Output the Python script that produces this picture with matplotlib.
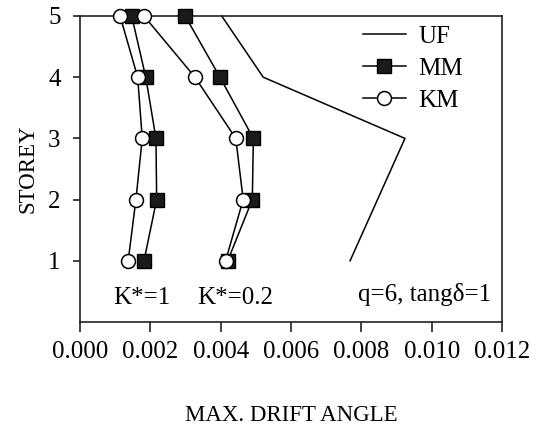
import matplotlib
matplotlib.use("Agg")
import matplotlib.pyplot as plt

plt.rcParams['font.family'] = ['Liberation Serif', 'DejaVu Serif']

storey = [1, 2, 3, 4, 5]

uf = [0.00768, 0.00846, 0.00924, 0.00521, 0.00403]

# K* = 1
mm_k1 = [0.00182, 0.00218, 0.00216, 0.00187, 0.00147]
km_k1 = [0.00137, 0.00159, 0.00177, 0.00164, 0.00114]

# K* = 0.2
mm_k02 = [0.00420, 0.00490, 0.00493, 0.00398, 0.00299]
km_k02 = [0.00414, 0.00464, 0.00443, 0.00327, 0.00182]

xticks = [0.000, 0.002, 0.004, 0.006, 0.008, 0.010, 0.012]
xticklabels = ["0.000", "0.002", "0.004", "0.006", "0.008", "0.010", "0.012"]

fig = plt.figure(figsize=(5.37, 4.3), dpi=100)
ax = fig.add_axes([80 / 537, 108 / 430, 422 / 537, 306 / 430])

lw = 1.1
ax.plot(uf, storey, color='black', lw=lw, label='UF', clip_on=False)
ax.plot(mm_k1, storey, color='black', lw=lw, marker='s', ms=9.5,
        mfc='#1a1a1a', mec='black', label='MM', clip_on=False, zorder=3)
ax.plot(km_k1, storey, color='black', lw=lw, marker='o', ms=10,
        mfc='white', mec='black', mew=1.1, label='KM', clip_on=False, zorder=4)
ax.plot(mm_k02, storey, color='black', lw=lw, marker='s', ms=9.5,
        mfc='#1a1a1a', mec='black', clip_on=False, zorder=3)
ax.plot(km_k02, storey, color='black', lw=lw, marker='o', ms=10,
        mfc='white', mec='black', mew=1.1, clip_on=False, zorder=4)

ax.set_xlim(0, 0.012)
ax.set_ylim(0, 5)
ax.set_xticks(xticks)
ax.set_xticklabels(xticklabels)
ax.set_yticks(storey)

for s in ax.spines.values():
    s.set_linewidth(1.2)
    s.set_color('#222222')

ax.tick_params(axis='x', direction='out', length=7, width=1.2, pad=7,
               labelsize=18, color='#222222')
ax.tick_params(axis='y', direction='out', length=5, width=1.2, pad=9,
               labelsize=18, color='#222222')

ax.set_ylabel("STOREY", fontsize=16.5, labelpad=7)
ax.set_xlabel("MAX. DRIFT ANGLE", fontsize=16.5, labelpad=30)

ax.text(0.00094, 0.4, "K*=1", fontsize=18, va='center')
ax.text(0.00333, 0.4, "K*=0.2", fontsize=18, va='center')
ax.text(0.0079, 0.45, "q=6, tang\u03b4=1", fontsize=18, va='center')

ax.legend(loc='upper left', bbox_to_anchor=(0.671, 0.97), frameon=False,
          fontsize=18, handlelength=1.7, handletextpad=0.5,
          labelspacing=0.38, borderpad=0, borderaxespad=0)

fig.savefig("out.png", dpi=100)
